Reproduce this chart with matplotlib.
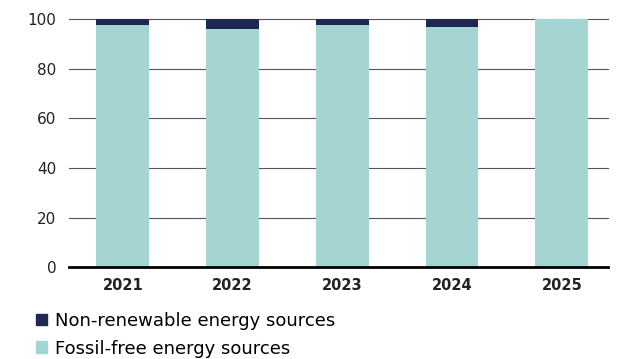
import matplotlib.pyplot as plt
from matplotlib.patches import Patch

years = ["2021", "2022", "2023", "2024", "2025"]
fossil_free = [97.7, 96.1, 97.7, 96.9, 100.0]
non_renewable = [2.3, 3.9, 2.3, 3.1, 0.0]
y_ticks = [0, 20, 40, 60, 80, 100]

teal = "#a5d5d3"
navy = "#1f2850"

plt.rcParams["font.family"] = ["DejaVu Sans"]

fig = plt.figure(figsize=(6.19, 3.59), dpi=100)
ax = fig.add_axes([0.1115, 0.256, 0.8705, 0.69])

x = range(len(years))
ax.bar(x, fossil_free, width=0.48, color=teal, zorder=3)
ax.bar(x, non_renewable, width=0.48, bottom=fossil_free, color=navy, zorder=3)

ax.set_xlim(-0.49, 4.42)
ax.set_ylim(0, 100)
ax.set_yticks(y_ticks)
ax.set_yticklabels([str(t) for t in y_ticks], fontsize=11, color="#222222")
ax.set_xticks(list(x))
ax.set_xticklabels(years, fontsize=10.5, fontweight="bold", color="#222222")
ax.tick_params(axis="y", length=0, pad=9)
ax.tick_params(axis="x", length=0, pad=8)

for t in y_ticks[1:]:
    ax.axhline(t, color="#555555", linewidth=0.8, zorder=1, clip_on=False)
ax.axhline(0, color="black", linewidth=2.0, zorder=4, clip_on=False)

for s in ax.spines.values():
    s.set_visible(False)

handles = [Patch(color=navy), Patch(color=teal)]
labels = ["Non-renewable energy sources", "Fossil-free energy sources"]
fig.legend(handles, labels, loc="upper left", bbox_to_anchor=(0.058, 0.132),
           frameon=False, fontsize=13, handlelength=0.6, handleheight=0.6,
           handletextpad=0.45, labelspacing=0.55, borderpad=0, borderaxespad=0)

fig.savefig("out.png", dpi=100)
